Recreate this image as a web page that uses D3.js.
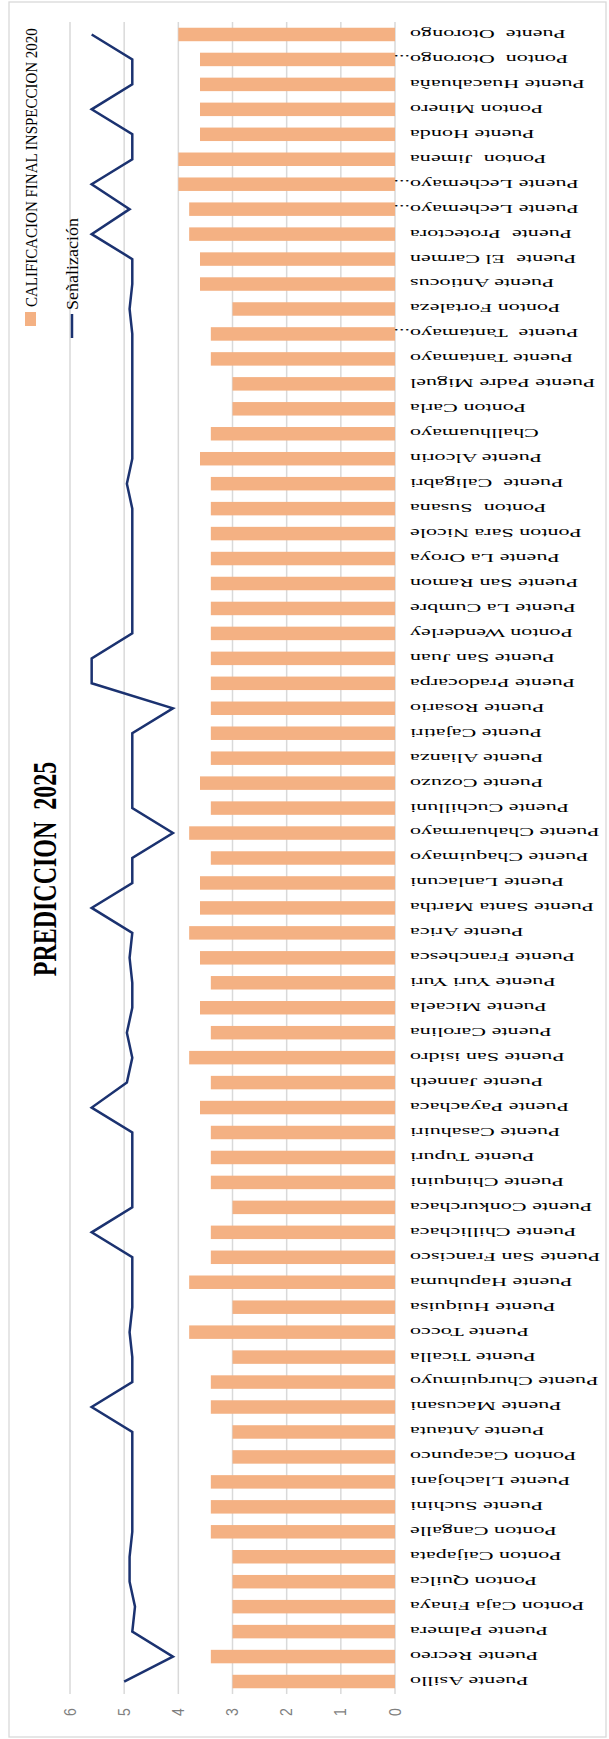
<!DOCTYPE html>
<html><head><meta charset="utf-8">
<script src="https://cdn.jsdelivr.net/npm/d3@7"></script>
<style>html,body{margin:0;padding:0;background:#fff;}svg{display:block;}</style>
</head><body>
<svg id="chart" width="609" height="1739"></svg>
<script>
const categories = ["Puente Asillo","Puente Recreo","Puente Palmera","Ponton Caja Finaya","Ponton Quilca","Ponton Caijapata","Ponton Cangalle","Puente Suchini","Puente Llachojani","Ponton Cacapunco","Puente Antauta","Puente Macusani","Puente Churquimuyo","Puente Ticalla","Puente Tocco","Puente Huiquisa","Puente Hapuhuma","Puente San Francisco","Puente Chillichaca","Puente Conkurchaca","Puente Chinquini","Puente Tupuri","Puente Casahuiri","Puente Payachaca","Puente Janneth","Puente San isidro","Puente Carolina","Puente Micaela","Puente Yuri Yuri","Puente Franchesca","Puente Arica","Puente Santa Martha","Puente Lanlacuni","Puente Chaquimayo","Puente Chahuarmayo","Puente Cuchilluni","Puente Cozuzo","Puente Alianza","Puente Cajatiri","Puente Rosario","Puente Pradocarpa","Puente San Juan","Ponton Wenderley","Puente La Cumbre","Puente San Ramon","Puente La Oroya","Ponton Sara Nicole","Ponton  Susana","Puente  Caligabri","Puente Alcorin","Challhuamayo","Ponton Carla","Puente Padre Miguel","Puente Tantamayo","Puente  Tantamayo...","Ponton Fortaleza","Puente Antiocus","Puente  El Carmen","Puente  Protectora","Puente Lechemayo...","Puente Lechemayo...","Ponton  Jimena","Puente Honda","Ponton Minero","Puente Huacahuaña","Ponton  Otorongo...","Puente  Otorongo"];
const calificacion2020 = [3.0,3.4,3.0,3.0,3.0,3.0,3.4,3.4,3.4,3.0,3.0,3.4,3.4,3.0,3.8,3.0,3.8,3.4,3.4,3.0,3.4,3.4,3.4,3.6,3.4,3.8,3.4,3.6,3.4,3.6,3.8,3.6,3.6,3.4,3.8,3.4,3.6,3.4,3.4,3.4,3.4,3.4,3.4,3.4,3.4,3.4,3.4,3.4,3.4,3.6,3.4,3.0,3.0,3.4,3.4,3.0,3.6,3.6,3.8,3.8,4.0,4.0,3.6,3.6,3.6,3.6,4.0];
const senalizacion = [5.0,4.1,4.85,4.8,4.9,4.9,4.85,4.85,4.85,4.85,4.85,5.6,4.85,4.85,4.9,4.85,4.85,4.85,5.6,4.85,4.85,4.85,4.85,5.6,4.95,4.85,4.95,4.85,4.85,4.9,4.85,5.6,4.85,4.85,4.1,4.85,4.85,4.85,4.85,4.1,5.6,5.6,4.85,4.85,4.85,4.85,4.85,4.85,4.95,4.85,4.85,4.85,4.85,4.85,4.85,4.9,4.85,4.85,5.6,4.9,5.6,4.85,4.85,5.6,4.85,4.85,5.6];
const tickValues = [0,1,2,3,4,5,6];
const titleText = "PREDICCION  2025";
const seriesNames = ["CALIFICACION FINAL INSPECCION 2020","Señalización"];

const svg = d3.select("#chart");
const barColor = "#f4b183", lineColor = "#1b3270", gridColor = "#d9d9d9";

svg.append("rect").attr("x",9).attr("y",2).attr("width",597).attr("height",1735)
  .attr("fill","#fff").attr("stroke","#d9d9d9").attr("stroke-width",1.3);

const x = d3.scaleLinear().domain([0,6]).range([395,70]);
const y = d3.scaleBand().domain(categories.map((d,i)=>i)).range([1694,22]).paddingInner(0.46).paddingOuter(0.23);
const yc = i => y(i) + y.bandwidth()/2;

svg.append("g").selectAll("line").data(tickValues).join("line")
  .attr("x1",d=>x(d)).attr("x2",d=>x(d)).attr("y1",22).attr("y2",1694)
  .attr("stroke",gridColor).attr("stroke-width",1.5);

svg.append("g").selectAll("text").data(tickValues).join("text")
  .attr("transform",d=>`translate(${x(d)},1712) scale(1.15,1) rotate(-90)`)
  .attr("text-anchor","middle").attr("dy","0.35em")
  .attr("font-family","Liberation Sans, Arial, sans-serif").attr("font-size",14)
  .attr("fill","#7f7f7f").text(d=>d);

svg.append("g").selectAll("rect").data(calificacion2020).join("rect")
  .attr("x",d=>x(d)).attr("width",d=>x(0)-x(d))
  .attr("y",(d,i)=>y(i)).attr("height",y.bandwidth())
  .attr("fill",barColor);

const lab = svg.append("g").selectAll("g").data(categories).join("g")
  .attr("transform",(d,i)=>`translate(410,${yc(i)}) scale(1.7,1) rotate(180)`)
  .attr("font-family","Liberation Serif, Times New Roman, serif").attr("font-size",13).attr("fill","#000");
lab.append("text").attr("text-anchor","end").attr("dy","0.35em").attr("xml:space","preserve")
  .text(d=>d.replace(/\.\.\.$/,""));
lab.filter(d=>/\.\.\.$/.test(d)).append("text").attr("text-anchor","start").attr("dy","0.35em").text("...");

const line = d3.line().x(d=>x(d)).y((d,i)=>yc(i));
svg.append("path").datum(senalizacion).attr("d",line)
  .attr("fill","none").attr("stroke",lineColor).attr("stroke-width",2.5).attr("stroke-linejoin","miter");

svg.append("text").attr("transform","translate(44,869) scale(1.37,1) rotate(-90)")
  .attr("text-anchor","middle").attr("dy","0.35em").attr("xml:space","preserve")
  .attr("font-family","Liberation Serif, Times New Roman, serif").attr("font-weight","bold").attr("font-size",24)
  .text(titleText);

svg.append("rect").attr("x",25).attr("y",312).attr("width",11).attr("height",14).attr("fill",barColor);
svg.append("text").attr("transform","translate(31,307) scale(1.17,1) rotate(-90)")
  .attr("dy","0.35em").attr("font-family","Liberation Serif, Times New Roman, serif").attr("font-size",15)
  .text(seriesNames[0]);
svg.append("line").attr("x1",72).attr("x2",72).attr("y1",314).attr("y2",338).attr("stroke",lineColor).attr("stroke-width",2.5);
svg.append("text").attr("transform","translate(72,310) scale(0.95,1) rotate(-90)")
  .attr("dy","0.35em").attr("font-family","Liberation Serif, Times New Roman, serif").attr("font-size",18)
  .text(seriesNames[1]);
</script>
</body></html>
